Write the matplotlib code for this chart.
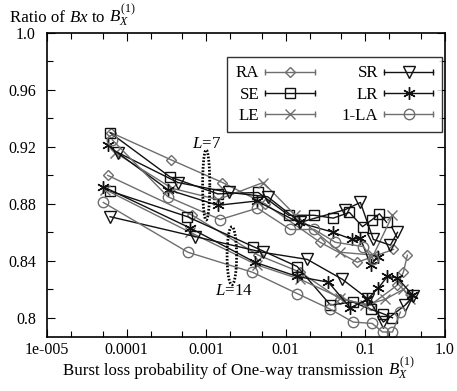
import numpy as np
import matplotlib
matplotlib.use("Agg")
import matplotlib.pyplot as plt
from matplotlib.lines import Line2D
from matplotlib.legend_handler import HandlerBase
from matplotlib.ticker import FixedLocator, FixedFormatter, NullFormatter

plt.rcParams['font.family'] = ['Liberation Serif', 'DejaVu Serif']
plt.rcParams['mathtext.fontset'] = 'custom'
plt.rcParams['mathtext.rm'] = 'Liberation Serif'
plt.rcParams['mathtext.it'] = 'Liberation Serif:italic'
plt.rcParams['mathtext.bf'] = 'Liberation Serif:bold'

# ---------------- data ----------------
# L = 7 group (upper)
ra7_x = [6.4e-5, 3.6e-4, 1.6e-3, 5.5e-3, 0.027, 0.079, 0.225]
ra7_y = [0.930, 0.911, 0.895, 0.880, 0.853, 0.839, 0.848]
se7_x = [6.2e-5, 3.5e-4, 1.4e-3, 4.5e-3, 0.0109, 0.0225, 0.0395, 0.063, 0.092, 0.122, 0.150, 0.185]
se7_y = [0.930, 0.899, 0.887, 0.888, 0.872, 0.872, 0.870, 0.874, 0.864, 0.869, 0.873, 0.867]
le7_x = [7.2e-5, 3.7e-4, 1.4e-3, 5.2e-3, 0.0132, 0.0485, 0.126, 0.219]
le7_y = [0.916, 0.891, 0.883, 0.895, 0.872, 0.846, 0.844, 0.872]
sr7_x = [7.8e-5, 4.4e-4, 1.95e-3, 5.9e-3, 0.0152, 0.056, 0.0865, 0.126, 0.206, 0.253]
sr7_y = [0.916, 0.895, 0.888, 0.885, 0.867, 0.876, 0.881, 0.855, 0.851, 0.860]
lr7_x = [5.8e-5, 3.3e-4, 1.4e-3, 4.3e-3, 0.0145, 0.0395, 0.0686, 0.0865, 0.116, 0.146]
lr7_y = [0.921, 0.890, 0.879, 0.882, 0.867, 0.860, 0.855, 0.856, 0.837, 0.843]
la7_x = [6.6e-5, 3.3e-4, 1.5e-3, 4.4e-3, 0.0114, 0.0228, 0.042, 0.094, 0.126]
la7_y = [0.925, 0.885, 0.869, 0.877, 0.862, 0.862, 0.853, 0.850, 0.841]

# L = 14 group (lower)
ra14_x = [5.8e-5, 6.7e-4, 4.5e-3, 0.0152, 0.0485, 0.116, 0.253, 0.300, 0.337]
ra14_y = [0.900, 0.872, 0.844, 0.832, 0.813, 0.809, 0.823, 0.832, 0.844]
se14_x = [6.2e-5, 5.8e-4, 3.9e-3, 0.0139, 0.0363, 0.070, 0.116, 0.164, 0.219]
se14_y = [0.889, 0.871, 0.850, 0.836, 0.809, 0.811, 0.806, 0.803, 0.800]
le14_x = [5.4e-5, 6.3e-4, 4.4e-3, 0.0152, 0.0485, 0.1, 0.178, 0.30, 0.368]
le14_y = [0.890, 0.860, 0.837, 0.827, 0.814, 0.809, 0.813, 0.820, 0.813]
sr14_x = [6.2e-5, 7.3e-4, 5.1e-3, 0.0186, 0.0514, 0.109, 0.168, 0.318, 0.400]
sr14_y = [0.871, 0.857, 0.846, 0.841, 0.827, 0.813, 0.797, 0.809, 0.815]
lr14_x = [5.1e-5, 6.3e-4, 4.1e-3, 0.0139, 0.0343, 0.0647, 0.106, 0.146, 0.189, 0.253, 0.390]
lr14_y = [0.892, 0.863, 0.839, 0.829, 0.825, 0.807, 0.813, 0.821, 0.829, 0.828, 0.816]
la14_x = [5.1e-5, 5.9e-4, 3.8e-3, 0.0139, 0.0363, 0.070, 0.122, 0.164, 0.219, 0.275]
la14_y = [0.881, 0.846, 0.832, 0.817, 0.806, 0.797, 0.796, 0.790, 0.790, 0.804]

series_names = ["RA", "SE", "LE", "SR", "LR", "1-LA"]
series7 = [(ra7_x, ra7_y), (se7_x, se7_y), (le7_x, le7_y), (sr7_x, sr7_y), (lr7_x, lr7_y), (la7_x, la7_y)]
series14 = [(ra14_x, ra14_y), (se14_x, se14_y), (le14_x, le14_y), (sr14_x, sr14_y), (lr14_x, lr14_y), (la14_x, la14_y)]

x_ticks = [1e-5, 1e-4, 1e-3, 1e-2, 1e-1, 1.0]
x_ticklabels = ["1e-005", "0.0001", "0.001", "0.01", "0.1", "1.0"]
y_ticks = [0.80, 0.84, 0.88, 0.92, 0.96, 1.0]
y_ticklabels = ["0.8", "0.84", "0.88", "0.92", "0.96", "1.0"]

GRAY = "#6e6e6e"
BLACK = "#111111"
styles = {
    "RA":   dict(color=GRAY, marker="D", ms=5.0),
    "SE":   dict(color=BLACK, marker="s", ms=6.5),
    "LE":   dict(color=GRAY, marker="x", ms=7.5),
    "SR":   dict(color=BLACK, marker="v", ms=8.0),
    "LR":   dict(color=BLACK, marker=(6, 2, 0), ms=9.0),
    "1-LA": dict(color=GRAY, marker="o", ms=7.5),
}

FS = 11.5
FSL = 12.2
fig = plt.figure(figsize=(4.57, 3.91), dpi=100)
ax = fig.add_axes([47/457, 1-337/391, 398/457, 304/391])

handles = []
for name, (d7, d14) in zip(series_names, zip(series7, series14)):
    st = styles[name]
    for (xs, ys) in (d7, d14):
        ax.plot(xs, ys, color=st["color"], lw=1.0, marker=st["marker"], ms=st["ms"],
                mfc="none", mec=st["color"], mew=1.0)
    handles.append(Line2D([], [], color=st["color"], lw=1.0, marker=st["marker"],
                          ms=st["ms"], mfc="none", mec=st["color"], mew=1.0))

# ellipses marking groups
t = np.linspace(0, 2*np.pi, 200)
ax.plot(1e-3*10**(0.045*np.cos(t)), 0.8933 + 0.0246*np.sin(t), color="black", lw=2.0, ls=(0, (0.6, 0.6)))
ax.plot(2.1e-3*10**(0.06*np.cos(t)), 0.8435 + 0.0204*np.sin(t), color="black", lw=2.0, ls=(0, (0.6, 0.6)))
ax.text(1e-3, 0.922, "$L$=7", ha="center", va="center", fontsize=FSL)
ax.text(2.25e-3, 0.819, "$L$=14", ha="center", va="center", fontsize=FSL)

ax.set_xscale("log")
ax.set_xlim(1e-5, 1.0)
ax.set_ylim(0.7865, 1.0)
ax.xaxis.set_major_locator(FixedLocator(x_ticks))
ax.xaxis.set_major_formatter(FixedFormatter(x_ticklabels))
minor_x = [m*10.0**e for e in range(-5, 0) for m in (2, 5)]
ax.xaxis.set_minor_locator(FixedLocator(minor_x))
ax.xaxis.set_minor_formatter(NullFormatter())
ax.yaxis.set_major_locator(FixedLocator(y_ticks))
ax.yaxis.set_major_formatter(FixedFormatter(y_ticklabels))
ax.yaxis.set_minor_locator(FixedLocator([0.78, 0.82, 0.86, 0.90, 0.94, 0.98]))

ax.tick_params(which="both", direction="in", top=True, right=True, width=0.8)
ax.tick_params(which="major", length=6, labelsize=FS)
ax.tick_params(which="minor", length=4)
ax.tick_params(axis="x", which="major", pad=3.5)
ax.tick_params(axis="y", which="major", pad=8)
for sp in ax.spines.values():
    sp.set_linewidth(1.2)


class CapHandler(HandlerBase):
    def create_artists(self, legend, orig, xdescent, ydescent, width, height, fontsize, trans):
        y = height/2 - ydescent
        x0, x1 = -xdescent, -xdescent + width
        c = orig.get_color()
        ln = Line2D([x0, x1], [y, y], color=c, lw=1.0)
        caps = Line2D([x0, x1], [y, y], ls="none", marker="|", ms=5, mew=1.0, color=c)
        mk = Line2D([(x0+x1)/2], [y], ls="none", marker=orig.get_marker(), ms=orig.get_markersize(),
                    mfc="none", mec=c, mew=1.0)
        for a in (ln, caps, mk):
            a.set_transform(trans)
        return [ln, caps, mk]


leg = ax.legend(handles, series_names, ncol=2, markerfirst=False, loc="upper right",
                bbox_to_anchor=(0.992, 0.921), borderaxespad=0.0, fontsize=FSL, frameon=True,
                fancybox=False, edgecolor="black", handlelength=2.9, handletextpad=0.35,
                columnspacing=1.6, labelspacing=0.3, borderpad=0.5,
                handler_map={Line2D: CapHandler()})
leg.get_frame().set_linewidth(1.0)

# axis titles: plain part + math part as separate texts placed side by side
renderer = fig.canvas.get_renderer()
W, H = fig.get_size_inches() * fig.dpi

y1 = fig.text(10/W, 1-22/H, "Ratio of ", ha="left", va="baseline", fontsize=FSL)
e1 = y1.get_window_extent(renderer)
y2 = fig.text(e1.x1/W, 1-22/H, r"$Bx$ to", ha="left", va="baseline", fontsize=FSL)
e2 = y2.get_window_extent(renderer)
fig.text((e2.x1 + 3)/W, 1-22/H, r"$B_X^{(1)}$", ha="left", va="baseline", fontsize=FSL)

x1 = fig.text(63/W, 1-375/H, "Burst loss probability of One-way transmission ", ha="left",
              va="baseline", fontsize=FSL)
ex = x1.get_window_extent(renderer)
fig.text(ex.x1/W, 1-375/H, r"$B_X^{(1)}$", ha="left", va="baseline", fontsize=FSL)

fig.savefig("out.png", dpi=100)
